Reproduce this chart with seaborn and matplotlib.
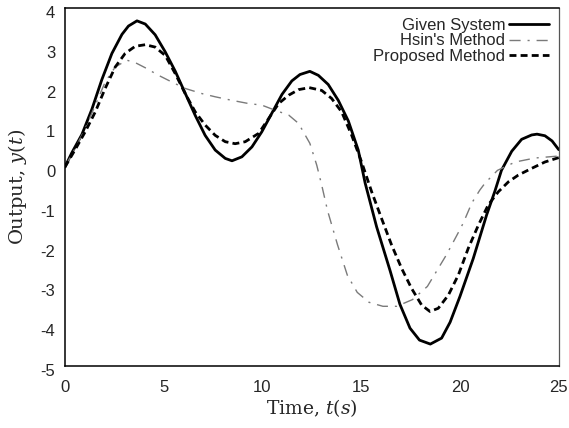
import matplotlib
matplotlib.use("Agg")
import matplotlib.pyplot as plt
import matplotlib.transforms as mtransforms
import seaborn as sns
import pandas as pd

# Time response of the given system and the two reduced models
given_t = [0, 0.35, 0.86, 1.37, 1.87, 2.38, 2.89, 3.22, 3.65, 4.07, 4.57, 5.08, 5.59,
           6.09, 6.6, 7.1, 7.61, 8.12, 8.46, 8.96, 9.47, 9.97, 10.48, 10.99, 11.49,
           11.9, 12.4, 12.83, 13.33, 13.84, 14.35, 14.85, 15.2, 15.78, 16.46, 16.96,
           17.47, 17.95, 18.5, 19.07, 19.5, 20.0, 20.67, 21.35, 21.77, 22.1, 22.62,
           23.12, 23.63, 23.9, 24.3, 24.66, 25.0]
given_y = [0, 0.36, 0.82, 1.46, 2.2, 2.86, 3.34, 3.55, 3.68, 3.6, 3.33, 2.9, 2.41,
           1.86, 1.3, 0.8, 0.43, 0.22, 0.16, 0.26, 0.51, 0.89, 1.36, 1.83, 2.17,
           2.33, 2.41, 2.31, 2.08, 1.68, 1.16, 0.43, -0.4, -1.5, -2.6, -3.45,
           -4.05, -4.35, -4.45, -4.3, -3.9, -3.25, -2.3, -1.2, -0.6, -0.08, 0.4,
           0.7, 0.81, 0.83, 0.79, 0.66, 0.44]

hsin_t = [0, 0.52, 1.03, 1.54, 2.04, 2.55, 3.14, 3.56, 4.07, 4.74, 5.42, 6.09, 6.94,
          7.61, 8.46, 9.3, 9.97, 10.65, 11.33, 11.83, 12.4, 12.75, 13.0, 13.3, 13.8,
          14.3, 14.8, 15.4, 16.1, 16.8, 17.6, 18.35, 19.32, 19.9, 20.17, 20.6, 21.0,
          21.27, 21.9, 22.8, 23.8, 25.0]
hsin_y = [0, 0.47, 0.97, 1.56, 2.14, 2.52, 2.69, 2.63, 2.50, 2.31, 2.14, 1.98, 1.85,
          1.77, 1.68, 1.60, 1.56, 1.43, 1.31, 1.10, 0.6, 0.05, -0.45, -1.1, -1.95,
          -2.72, -3.15, -3.4, -3.5, -3.5, -3.33, -3.0, -2.2, -1.66, -1.4, -0.9, -0.58,
          -0.4, -0.08, 0.13, 0.23, 0.28]

prop_t = [0, 0.52, 1.03, 1.54, 2.04, 2.55, 3.05, 3.56, 4.07, 4.57, 5.08, 5.59, 6.09,
          6.6, 7.1, 7.61, 8.12, 8.62, 9.13, 9.81, 10.31, 10.82, 11.33, 11.83, 12.37,
          13.0, 13.5, 14.01, 14.52, 15.02, 15.53, 16.03, 16.54, 17.05, 17.55, 18.06,
          18.48, 18.9, 19.41, 19.92, 20.42, 20.93, 21.43, 21.94, 22.45, 22.95, 23.63,
          24.3, 25.0]
prop_y = [0, 0.44, 0.89, 1.39, 1.98, 2.52, 2.86, 3.04, 3.08, 3.02, 2.81, 2.35, 1.85,
          1.39, 1.06, 0.80, 0.64, 0.59, 0.64, 0.85, 1.22, 1.60, 1.81, 1.95, 2.00,
          1.93, 1.73, 1.39, 0.80, 0.13, -0.62, -1.29, -1.96, -2.55, -3.05, -3.47,
          -3.63, -3.55, -3.22, -2.71, -2.04, -1.46, -0.95, -0.62, -0.37, -0.20, -0.03,
          0.13, 0.24]

series_names = ["Given System", "Hsin's Method", "Proposed Method"]
x_ticks = [0, 5, 10, 15, 20, 25]
y_ticks = [-5, -4, -3, -2, -1, 0, 1, 2, 3, 4]

sns.set_style("white")
plt.rcParams["font.family"] = ["Liberation Sans", "DejaVu Sans"]
plt.rcParams["mathtext.fontset"] = "dejavuserif"
plt.rcParams["axes.unicode_minus"] = False

fig = plt.figure(figsize=(5.69, 4.28), dpi=100)
ax = fig.add_axes([0.114, 0.145, 0.868, 0.836])

styles = [
    dict(color="black", linewidth=2.0, linestyle="-"),
    dict(color="#7a7a7a", linewidth=1.0, linestyle=(0, (8, 5, 1.5, 5))),
    dict(color="black", linewidth=2.0, linestyle=(0, (2.5, 1.5))),
]
data = [(given_t, given_y), (hsin_t, hsin_y), (prop_t, prop_y)]
for name, (t, y), st in zip(series_names, data, styles):
    df = pd.DataFrame({"t": t, "y": y})
    sns.lineplot(data=df, x="t", y="y", ax=ax, label=name, sort=False, **st)

ax.set_xlim(0, 25)
ax.set_ylim(-5, 4)
ax.set_xticks(x_ticks)
ax.set_yticks(y_ticks)
ax.tick_params(axis="x", labelsize=12, length=0, pad=10)
ax.tick_params(axis="y", labelsize=12, length=0, pad=7)
# y tick labels sit a little below their gridline positions
offset = mtransforms.ScaledTranslation(0, -4 / 100, fig.dpi_scale_trans)
for lbl in ax.get_yticklabels():
    lbl.set_transform(lbl.get_transform() + offset)

ax.set_xlabel("Time, $t(s)$", fontsize=13.5, family="DejaVu Serif", labelpad=2)
ax.set_ylabel("Output, $y(t)$", fontsize=14, family="DejaVu Serif", labelpad=8)

for side in ["left", "bottom", "top"]:
    ax.spines[side].set_color("black")
    ax.spines[side].set_linewidth(1.1)
ax.spines["right"].set_color("#555555")
ax.spines["right"].set_linewidth(0.9)

leg = ax.legend(loc="upper right", frameon=False, markerfirst=False, fontsize=12,
                handlelength=2.4, borderaxespad=0.3, labelspacing=0.02,
                handletextpad=0.2, borderpad=0.3)

fig.savefig("out.png", dpi=100)
